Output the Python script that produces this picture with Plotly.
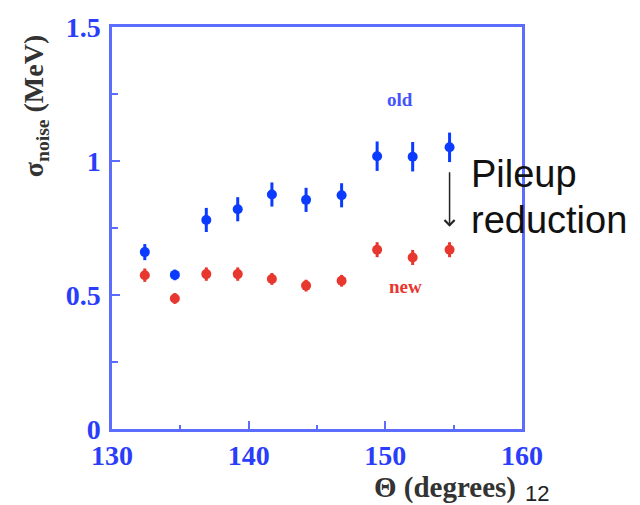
import plotly.graph_objects as go

# Scattering angle bins (degrees)
theta = [132.4, 134.6, 136.9, 139.2, 141.7, 144.2, 146.8, 149.4, 152.0, 154.7]

# Noise width (MeV) before and after the pileup treatment
sigma_old = [0.66, 0.575, 0.78, 0.82, 0.875, 0.855, 0.872, 1.018, 1.016, 1.051]
err_old = [0.03, 0.02, 0.045, 0.045, 0.045, 0.045, 0.045, 0.055, 0.055, 0.055]

sigma_new = [0.574, 0.487, 0.578, 0.578, 0.56, 0.535, 0.553, 0.669, 0.64, 0.669]
err_new = [0.025, 0.02, 0.025, 0.025, 0.022, 0.022, 0.022, 0.028, 0.028, 0.028]

x_ticks = [130, 140, 150, 160]
y_ticks = [0, 0.5, 1, 1.5]
y_tick_text = ["0", "0.5", "1", "1.5"]

BLUE = "#0b3bff"
RED = "#e8372e"
AXIS = "#5b6cff"
SERIF = "Liberation Serif, Times New Roman, serif"
SANS = "Liberation Sans, Arial, sans-serif"
TICKFONT = dict(family=SERIF, size=28, color="#2a3dfa", weight="bold")

W, H = 640, 505
L, R, T, B = 112, 118, 18, 76
PW, PH = W - L - R, H - T - B


def px(xpix):
    return (xpix - L) / PW


def py(ypix):
    return (H - B - ypix) / PH


fig = go.Figure()

fig.add_trace(go.Scatter(
    x=theta, y=sigma_old, mode="markers",
    marker=dict(color=BLUE, size=10),
    error_y=dict(type="data", array=err_old, color=BLUE, thickness=3, width=0),
    showlegend=False,
))
fig.add_trace(go.Scatter(
    x=theta, y=sigma_new, mode="markers",
    marker=dict(color=RED, size=10),
    error_y=dict(type="data", array=err_new, color=RED, thickness=3, width=0),
    showlegend=False,
))

axis_common = dict(
    showgrid=False, zeroline=False, showline=True, linecolor=AXIS, linewidth=2.5,
    mirror=True, ticks="inside", tickcolor=AXIS, tickwidth=2, ticklen=8,
    tickfont=TICKFONT,
)

fig.update_xaxes(
    range=[130, 160], tickvals=x_ticks, ticktext=[str(v) for v in x_ticks],
    minor=dict(ticks="inside", dtick=5, tick0=130, ticklen=4, tickcolor=AXIS, tickwidth=2),
    **axis_common,
)
fig.update_yaxes(
    range=[0, 1.5], tickvals=y_ticks, ticktext=y_tick_text,
    ticklabelstandoff=3,
    minor=dict(ticks="inside", dtick=0.25, tick0=0, ticklen=6, tickcolor=AXIS, tickwidth=2),
    **axis_common,
)

annotations = [
    # axis titles
    dict(text="<b>σ<sub>noise</sub> (MeV)</b>", xref="paper", yref="paper", x=px(35), y=py(99),
         textangle=-90, showarrow=False, xanchor="center", yanchor="middle",
         font=dict(family=SERIF, size=28, color="#333333")),
    dict(text="<b>Θ (degrees)</b>", xref="paper", yref="paper", x=px(445), y=py(489),
         showarrow=False, xanchor="center", yanchor="middle",
         font=dict(family=SERIF, size=29, color="#333333")),
    dict(text="12", xref="paper", yref="paper", x=px(523), y=py(495),
         showarrow=False, xanchor="left", yanchor="middle",
         font=dict(family=SANS, size=22, color="#222222")),
    # series labels
    dict(text="<b>old</b>", xref="paper", yref="paper", x=px(400), y=py(92),
         showarrow=False, xanchor="center", yanchor="middle",
         font=dict(family=SERIF, size=19, color="#4455ff")),
    dict(text="<b>new</b>", xref="paper", yref="paper", x=px(405), y=py(283),
         showarrow=False, xanchor="center", yanchor="middle",
         font=dict(family=SERIF, size=19, color="#e8372e")),
    # pileup arrow
    dict(x=theta[-1], y=0.755, ax=theta[-1], ay=0.964, xref="x", yref="y",
         axref="x", ayref="y", text="", showarrow=True, arrowhead=4,
         arrowsize=1.3, arrowwidth=1.5, arrowcolor="#222222"),
    dict(text="Pileup", xref="paper", yref="paper", x=px(469), y=py(168),
         showarrow=False, xanchor="left", yanchor="middle",
         font=dict(family=SANS, size=38, color="#111111")),
    dict(text="reduction", xref="paper", yref="paper", x=px(469), y=py(215),
         showarrow=False, xanchor="left", yanchor="middle",
         font=dict(family=SANS, size=38, color="#111111")),
]

fig.update_layout(
    width=W, height=H,
    margin=dict(l=L, r=R, t=T, b=B),
    paper_bgcolor="white", plot_bgcolor="white",
    annotations=annotations,
)

fig.write_html("out.html")
